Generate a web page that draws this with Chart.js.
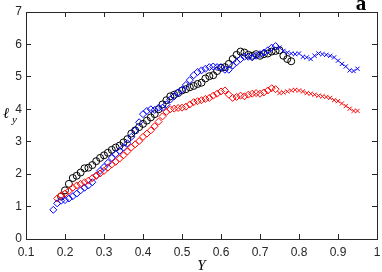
<!DOCTYPE html>
<html>
<head>
<meta charset="utf-8">
<script src="https://cdn.jsdelivr.net/npm/chart.js@4.4.0/dist/chart.umd.min.js"></script>
<style>
  body { margin: 0; background: #fff; }
</style>
</head>
<body>
<canvas id="myChart" width="382" height="272"></canvas>
<script>
// black circles
var blackX = [0.19,0.20,0.21,0.22,0.23,0.24,0.25,0.26,0.27,0.28,0.29,0.30,0.31,0.32,0.33,0.34,0.35,0.36,0.37,0.38,
              0.39,0.40,0.41,0.42,0.43,0.44,0.45,0.46,0.47,0.48,0.49,0.50,0.51,0.52,0.53,0.54,0.55,0.56,0.57,0.58,
              0.59,0.60,0.61,0.62,0.63,0.64,0.65,0.66,0.67,0.68,0.69,0.70,0.71,0.72,0.73,0.74,0.75,0.76,0.77,0.78];
var blackY = [1.31,1.50,1.70,1.88,1.95,2.05,2.18,2.20,2.28,2.40,2.50,2.58,2.66,2.75,2.82,2.88,2.98,3.08,3.25,3.35,
              3.45,3.55,3.65,3.75,3.85,4.00,4.15,4.28,4.40,4.45,4.50,4.58,4.62,4.68,4.72,4.78,4.82,4.95,5.02,5.05,
              5.18,5.28,5.30,5.40,5.55,5.68,5.78,5.75,5.68,5.65,5.70,5.65,5.70,5.72,5.78,5.80,5.82,5.65,5.55,5.48];

// blue diamonds, then blue crosses
var blueDiaX = [0.17,0.18,0.19,0.20,0.21,0.22,0.23,0.24,0.25,0.26,0.27,0.28,0.29,0.30,0.31,0.32,0.33,0.34,0.35,0.36,
                0.37,0.38,0.39,0.40,0.41,0.42,0.43,0.44,0.45,0.46,0.47,0.48,0.49,0.50,0.51,0.52,0.53,0.54,0.55,0.56,
                0.57,0.58,0.59,0.60,0.61,0.62,0.63,0.64,0.65,0.66,0.67,0.68,0.69,0.70,0.71,0.72,0.73,0.74];
var blueDiaY = [0.90,1.10,1.18,1.20,1.25,1.32,1.40,1.50,1.58,1.65,1.75,1.95,2.10,2.22,2.35,2.50,2.62,2.72,2.82,2.95,
                3.15,3.35,3.60,3.85,3.95,4.00,3.98,4.05,4.05,4.15,4.30,4.40,4.52,4.60,4.75,4.90,5.05,5.15,5.20,5.25,
                5.30,5.32,5.30,5.30,5.22,5.22,5.35,5.45,5.55,5.62,5.62,5.60,5.65,5.70,5.75,5.82,5.90,5.95];
var blueCrossX = [0.75,0.76,0.77,0.78,0.79,0.80,0.81,0.82,0.83,0.84,0.85,0.86,0.87,0.88,0.89,0.90,0.91,0.92,0.93,0.94,0.95];
var blueCrossY = [5.90,5.80,5.75,5.72,5.70,5.72,5.62,5.60,5.55,5.65,5.72,5.70,5.68,5.65,5.60,5.50,5.40,5.32,5.20,5.18,5.25];

// red diamonds, then red crosses
var redDiaX = [0.18,0.19,0.20,0.21,0.22,0.23,0.24,0.25,0.26,0.27,0.28,0.29,0.30,0.31,0.32,0.33,0.34,0.35,0.36,0.37,
               0.38,0.39,0.40,0.41,0.42,0.43,0.44,0.45,0.46,0.47,0.48,0.49,0.50,0.51,0.52,0.53,0.54,0.55,0.56,0.57,
               0.58,0.59,0.60,0.61,0.62,0.63,0.64,0.65,0.66,0.67,0.68,0.69,0.70,0.71,0.72,0.73,0.74];
var redDiaY = [1.25,1.35,1.40,1.48,1.58,1.65,1.70,1.75,1.80,1.88,1.95,2.02,2.10,2.20,2.30,2.38,2.48,2.58,2.70,2.82,
               2.92,3.02,3.15,3.25,3.35,3.48,3.62,3.78,3.92,4.00,4.02,4.04,4.05,4.08,4.15,4.22,4.25,4.28,4.32,4.35,
               4.42,4.48,4.55,4.58,4.45,4.35,4.38,4.42,4.40,4.45,4.48,4.50,4.48,4.52,4.58,4.65,4.62];
var redCrossX = [0.75,0.76,0.77,0.78,0.79,0.80,0.81,0.82,0.83,0.84,0.85,0.86,0.87,0.88,0.89,0.90,0.91,0.92,0.93,0.94,0.95];
var redCrossY = [4.50,4.52,4.55,4.58,4.60,4.58,4.55,4.50,4.48,4.45,4.42,4.40,4.38,4.35,4.28,4.25,4.18,4.10,4.02,3.95,3.95];

var xTicks = [0.1,0.2,0.3,0.4,0.5,0.6,0.7,0.8,0.9,1];
var yTicks = [0,1,2,3,4,5,6,7];

var axisColor = '#262626';
var tickFont = { family: 'Liberation Sans, Arial, sans-serif', size: 12 };

function toPoints(xs, ys) {
  return xs.map(function (x, i) { return { x: x, y: ys[i] }; });
}

function markers(label, xs, ys, color, style, radius) {
  return {
    label: label,
    data: toPoints(xs, ys),
    showLine: false,
    pointStyle: style,
    pointRadius: radius,
    pointBorderWidth: 1,
    pointBorderColor: color,
    pointBackgroundColor: 'rgba(0,0,0,0)',
    borderColor: color,
    backgroundColor: 'rgba(0,0,0,0)'
  };
}

// fixed box sizes so the plot area sits where it does in the figure
function fixSize(size) {
  return function (scale) {
    if (scale.isHorizontal()) scale.height = size; else scale.width = size;
    scale.paddingLeft = scale.paddingRight = scale.paddingTop = scale.paddingBottom = 0;
  };
}

function plainLabel(value) {
  return String(value);
}

var extraText = {
  id: 'extraText',
  afterDraw: function (chart) {
    var ctx = chart.ctx;
    ctx.save();
    ctx.fillStyle = '#000';
    ctx.textBaseline = 'alphabetic';
    ctx.textAlign = 'left';
    ctx.font = 'italic 15px "DejaVu Serif", serif';
    ctx.fillText('ℓ', 3, 118);
    ctx.font = 'italic 11px "Liberation Serif", serif';
    ctx.fillText('y', 12, 123);
    ctx.font = 'bold 21px "Liberation Serif", serif';
    ctx.textAlign = 'center';
    ctx.fillText('a', 361, 10);
    ctx.restore();
  }
};

var ctx = document.getElementById('myChart');
var myChart = new Chart(ctx, {
  type: 'scatter',
  data: {
    datasets: [
      markers('red', redDiaX, redDiaY, '#ff0000', 'rectRot', 3.5),
      markers('red x', redCrossX, redCrossY, '#ff0000', 'crossRot', 3),
      markers('blue', blueDiaX, blueDiaY, '#0000ff', 'rectRot', 3.5),
      markers('blue x', blueCrossX, blueCrossY, '#0000ff', 'crossRot', 3),
      markers('black', blackX, blackY, '#000000', 'circle', 3.5)
    ]
  },
  options: {
    responsive: false,
    animation: false,
    layout: { padding: { top: 12, right: 2, left: 0, bottom: 0 } },
    plugins: {
      legend: { display: false },
      tooltip: { enabled: false }
    },
    scales: {
      x: {
        type: 'linear', position: 'bottom', min: 0.1, max: 1,
        afterBuildTicks: function (s) { s.ticks = xTicks.map(function (v) { return { value: v }; }); },
        afterFit: fixSize(33),
        grid: { drawOnChartArea: false, tickLength: -5, color: axisColor, lineWidth: 1 },
        border: { color: axisColor, width: 1 },
        ticks: { padding: 11, color: axisColor, font: tickFont, maxRotation: 0, autoSkip: false, callback: plainLabel },
        title: { display: true, text: 'Y', color: '#000', padding: 0,
                 font: { family: 'Liberation Serif, serif', style: 'italic', size: 15, lineHeight: 0.8 } }
      },
      x2: {
        type: 'linear', position: 'top', min: 0.1, max: 1,
        afterBuildTicks: function (s) { s.ticks = xTicks.map(function (v) { return { value: v }; }); },
        afterFit: fixSize(0),
        grid: { drawOnChartArea: false, tickLength: -5, color: axisColor, lineWidth: 1 },
        border: { color: axisColor, width: 1 },
        ticks: { display: false }
      },
      y: {
        type: 'linear', position: 'left', min: 0, max: 7,
        afterBuildTicks: function (s) { s.ticks = yTicks.map(function (v) { return { value: v }; }); },
        afterFit: fixSize(26),
        grid: { drawOnChartArea: false, tickLength: -5, color: axisColor, lineWidth: 1 },
        border: { color: axisColor, width: 1 },
        ticks: { padding: 9, color: axisColor, font: tickFont, callback: plainLabel }
      },
      y2: {
        type: 'linear', position: 'right', min: 0, max: 7,
        afterBuildTicks: function (s) { s.ticks = yTicks.map(function (v) { return { value: v }; }); },
        afterFit: fixSize(0),
        grid: { drawOnChartArea: false, tickLength: -5, color: axisColor, lineWidth: 1 },
        border: { color: axisColor, width: 1 },
        ticks: { display: false }
      }
    }
  },
  plugins: [extraText]
});
</script>
</body>
</html>
